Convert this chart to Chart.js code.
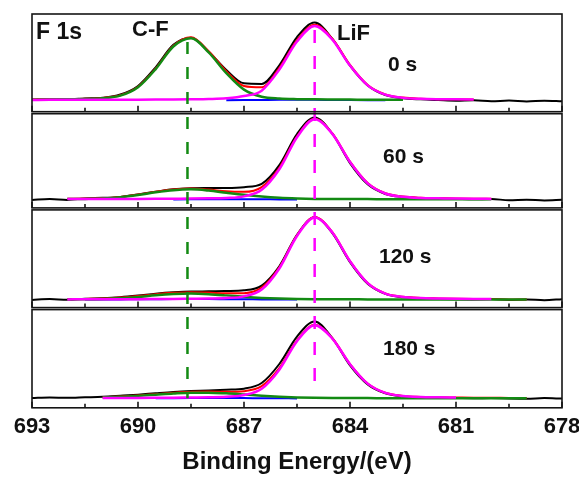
<!DOCTYPE html>
<html lang="en">
<head>
<meta charset="UTF-8"/>
<title>F 1s XPS depth profile</title>
<script src="https://cdn.jsdelivr.net/npm/chart.js"></script>
<style>
    html, body {
        margin: 0;
        padding: 0;
        background: #fff;
        overflow: hidden;
    }
    .wrap {
        position: absolute;
        left: 0;
        top: 0;
        width: 600px;
        height: 477px;
    }
</style>
</head>
<body>
<div class="wrap"><canvas id="xps"></canvas></div>
<script>
// binding energy grid (eV), shared by every curve
const energies = [693, 692.5, 692, 691.5, 691, 690.5, 690, 689.5, 689, 688.5, 688, 687.5, 687, 686.5, 686,
    685.5, 685, 684.5, 684, 683.5, 683, 682.5, 682, 681.5, 681, 680.5, 680, 679.5, 679, 678.5, 678];
const majorTicks = [693, 690, 687, 684, 681, 678];
const minorTicks = [691.5, 688.5, 685.5, 682.5, 679.5];
const sputterTimes = ['0 s', '60 s', '120 s', '180 s'];
const peakNames = ['C-F', 'LiF'];
const peakPositions = [688.6, 685.0];

// 0 s
const raw0 = [0.5, 1.0, 0.8, 1.7, 2.4, 5.6, 14.2, 32.8, 55.2, 62.4, 48.4, 30.2, 16.8, 16.2, 34.8,
    63.0, 77.4, 61.2, 34.4, 14.6, 5.0, 1.9, 0.8, 0.1, -0.5, -0.1, -1.0, -0.4, -1.3, -0.5, -1.1];
const env0 = [0.7, 0.9, 1.1, 1.4, 2.3, 4.9, 13.4, 31.6, 54.3, 62.7, 48.9, 28.9, 14.2, 12.8, 32.3,
    60.0, 75.2, 61.3, 35.2, 15.2, 5.8, 2.6, 1.4, 1.0, 0.8, 0.6, null, null, null, null, null];
const cf0 = [0.5, 0.6, 0.8, 1.1, 1.9, 4.5, 12.9, 31.0, 53.6, 61.8, 47.7, 27.0, 10.5, 3.5, 1.6,
    1.0, 0.8, 0.7, 0.6, 0.4, 0.4, 0.3, null, null, null, null, null, null, null, null, null];
const lif0 = [0.2, 0.3, 0.3, 0.3, 0.4, 0.4, 0.5, 0.6, 0.7, 0.9, 1.2, 1.9, 4.1, 9.5, 30.5,
    58.5, 74.0, 60.4, 34.5, 14.8, 5.5, 2.3, 1.4, 1.0, 0.8, 0.6, null, null, null, null, null];
const bg0 = [null, null, null, null, null, null, null, null, null, null, null, 0.0, 0.1, 0.2, 0.3,
    0.3, 0.3, 0.2, 0.1, 0.0, -0.1, null, null, null, null, null, null, null, null, null, null];

// 60 s
const raw1 = [-0.6, 0.4, -0.5, 0.9, 1.5, 2.5, 5.0, 7.6, 10.1, 11.1, 11.3, 11.4, 12.2, 15.5, 34.2,
    65.2, 81.8, 65.6, 36.2, 15.0, 5.4, 2.4, 1.3, 0.8, 0.5, 0.2, 0.3, -0.8, -0.3, -1.0, -0.4];
const env1 = [null, null, 0.6, 0.8, 1.3, 2.5, 4.8, 7.7, 9.9, 10.8, 9.8, 8.0, 7.5, 12.3, 31.6,
    62.9, 80.5, 65.8, 37.6, 16.3, 6.1, 2.8, 1.6, 1.2, 0.9, 0.7, 0.6, null, null, null, null];
const cf1 = [null, null, 0.3, 0.5, 0.9, 2.1, 4.3, 7.1, 9.2, 10.0, 8.8, 6.6, 4.5, 2.8, 1.6,
    0.9, 0.5, 0.4, 0.3, 0.3, 0.2, 0.2, 0.2, 0.1, 0.1, 0.1, 0.1, null, null, null, null];
const lif1 = [null, null, 0.3, 0.3, 0.4, 0.4, 0.5, 0.6, 0.7, 0.8, 1.0, 1.4, 3.0, 9.5, 30.0,
    62.0, 80.0, 65.4, 37.3, 16.0, 5.9, 2.6, 1.4, 1.1, 0.8, 0.6, 0.5, null, null, null, null];
const bg1 = [null, null, null, null, null, null, null, null, 0.0, 0.1, 0.2, 0.2, 0.2, 0.1, 0.0,
    -0.1, null, null, null, null, null, null, null, null, null, null, null, null, null, null, null];

// 120 s
const raw2 = [-0.3, 0.5, -0.2, 0.9, 1.4, 2.4, 4.0, 5.9, 7.3, 8.1, 8.2, 8.5, 9.2, 14.0, 33.3,
    64.6, 82.2, 66.4, 37.4, 15.8, 5.7, 2.3, 1.1, 0.7, 0.4, 0.2, 0.5, -0.3, 0.2, -0.6, 0.4];
const env2 = [null, null, 0.4, 0.7, 1.1, 2.0, 3.5, 5.4, 6.7, 7.4, 7.0, 6.2, 6.4, 11.9, 32.1,
    64.1, 82.4, 67.3, 38.5, 16.6, 6.2, 2.8, 1.6, 1.2, 0.9, 0.7, 0.6, 0.2, 0.1, null, null];
const cf2 = [null, null, 0.2, 0.3, 0.6, 1.3, 2.6, 4.3, 5.5, 6.0, 5.4, 4.2, 2.8, 1.7, 1.0,
    0.6, 0.4, 0.3, 0.3, 0.2, 0.2, 0.2, 0.1, 0.1, 0.1, 0.1, 0.1, 0.1, 0.1, null, null];
const lif2 = [null, null, 0.2, 0.3, 0.3, 0.4, 0.4, 0.5, 0.6, 0.8, 1.0, 1.5, 3.2, 10.0, 31.0,
    63.5, 82.0, 67.0, 38.2, 16.4, 6.0, 2.6, 1.5, 1.1, 0.8, 0.6, 0.5, null, null, null, null];
const bg2 = [null, null, null, 0.0, 0.1, 0.2, 0.3, 0.4, 0.5, 0.5, 0.5, 0.4, 0.3, 0.2, 0.1,
    0.0, null, null, null, null, null, null, null, null, null, null, null, null, null, null, null];

// 180 s
const raw3 = [0.2, 0.8, 0.5, 1.0, 1.5, 2.5, 3.6, 5.0, 6.3, 7.2, 7.8, 8.6, 9.6, 15.2, 34.2,
    61.6, 76.6, 60.0, 32.8, 13.8, 4.9, 1.9, 0.9, 0.5, 0.3, 0.1, 0.2, -0.2, -0.4, 0.2, -0.3];
const env3 = [null, null, null, null, 1.0, 1.8, 2.8, 4.1, 5.4, 6.4, 6.7, 6.5, 7.1, 12.1, 30.1,
    57.9, 73.5, 59.9, 34.2, 14.8, 5.5, 2.4, 1.4, 1.0, 0.8, 0.6, 0.5, 0.4, 0.3, null, null];
const cf3 = [null, null, null, null, 0.7, 1.5, 2.4, 3.6, 4.8, 5.6, 5.6, 4.9, 3.8, 2.6, 1.6,
    0.9, 0.5, 0.3, 0.2, 0.2, 0.1, 0.1, 0.1, 0.0, 0.0, 0.0, 0.0, 0.0, 0.0, null, null];
const lif3 = [null, null, null, null, 0.3, 0.3, 0.4, 0.5, 0.6, 0.8, 1.0, 1.5, 3.2, 9.5, 28.5,
    57.0, 73.0, 59.6, 34.0, 14.6, 5.4, 2.3, 1.3, 1.0, 0.8, null, null, null, null, null, null];
const bg3 = [null, null, null, null, null, null, null, 0.0, 0.1, 0.2, 0.3, 0.3, 0.2, 0.1, 0.0,
    -0.1, null, null, null, null, null, null, null, null, null, null, null, null, null, null, null];

const panels = [
    {raw: raw0, env: env0, cf: cf0, lif: lif0, bg: bg0},
    {raw: raw1, env: env1, cf: cf1, lif: lif1, bg: bg1},
    {raw: raw2, env: env2, cf: cf2, lif: lif2, bg: bg2},
    {raw: raw3, env: env3, cf: cf3, lif: lif3, bg: bg3}
];

const FONT = "'Liberation Sans', Arial, sans-serif";
const panelIds = ['p0', 'p1', 'p2', 'p3'];

function points(arr) {
    const out = [];
    energies.forEach((e, i) => {
        if (arr[i] !== null) out.push({x: e, y: arr[i]});
    });
    return out;
}

function line(arr, axis, color, width, order) {
    return {
        data: points(arr),
        yAxisID: axis,
        borderColor: color,
        borderWidth: width,
        pointRadius: 0,
        cubicInterpolationMode: 'monotone',
        fill: false,
        order: order
    };
}

const datasets = [];
panels.forEach((p, i) => {
    const id = panelIds[i];
    datasets.push(line(p.raw, id, '#000000', 2, 5));
    datasets.push(line(p.env, id, '#ff0000', 2, 4));
    datasets.push(line(p.bg, id, '#0000ff', 2, 3));
    datasets.push(line(p.cf, id, '#138a13', 2.5, 2));
    datasets.push(line(p.lif, id, '#ff00ff', 2.5, 1));
});

const panelAxis = (min, max, weight, stackWeight) => ({
    type: 'linear',
    position: 'left',
    stack: 'panels',
    stackWeight: stackWeight,
    weight: weight,
    display: false,
    min: min,
    max: max
});

// frames, inner ticks, reference lines and labels
const decorations = {
    id: 'decorations',
    afterDatasetsDraw(chart) {
        const {ctx, chartArea, scales} = chart;
        const x = scales.x;
        ctx.save();

        // dashed peak markers running through all panels
        const markers = [
            {e: peakPositions[0], from: 58, to: 0, color: '#138a13', dash: [12, 13]},
            {e: peakPositions[1], from: 70, to: 10, color: '#ff00ff', dash: [13, 13]}
        ];
        markers.forEach(m => {
            const px = x.getPixelForValue(m.e);
            ctx.beginPath();
            ctx.setLineDash(m.dash);
            ctx.lineWidth = 2.5;
            ctx.strokeStyle = m.color;
            ctx.moveTo(px, scales.p0.getPixelForValue(m.from));
            ctx.lineTo(px, scales.p3.getPixelForValue(m.to));
            ctx.stroke();
        });
        ctx.setLineDash([]);

        // panel boxes with inward ticks on the bottom edge
        panelIds.forEach((id, i) => {
            const s = scales[id];
            const top = s.top + (i ? 1 : 0);
            const bottom = s.bottom - (i < 3 ? 1 : 0);
            ctx.lineWidth = 1.6;
            ctx.strokeStyle = '#151515';
            ctx.strokeRect(chartArea.left, top, chartArea.right - chartArea.left, bottom - top);
            ctx.beginPath();
            majorTicks.forEach(t => {
                const px = x.getPixelForValue(t);
                ctx.moveTo(px, bottom);
                ctx.lineTo(px, bottom - 6);
            });
            minorTicks.forEach(t => {
                const px = x.getPixelForValue(t);
                ctx.moveTo(px, bottom);
                ctx.lineTo(px, bottom - 4);
            });
            ctx.stroke();
        });

        // text labels
        ctx.fillStyle = '#111';
        ctx.textBaseline = 'alphabetic';
        ctx.textAlign = 'left';
        ctx.font = 'bold 23px ' + FONT;
        ctx.fillText('F 1s', 36, 39);
        ctx.font = 'bold 22px ' + FONT;
        ctx.fillText(peakNames[0], 132, 36);
        ctx.fillText(peakNames[1], 337, 40);
        ctx.font = 'bold 21px ' + FONT;
        const timePos = [[388, 71], [383, 163], [379, 263], [383, 355]];
        sputterTimes.forEach((t, i) => ctx.fillText(t, timePos[i][0], timePos[i][1]));
        ctx.restore();
    }
};

new Chart(document.getElementById('xps'), {
    type: 'line',
    data: {datasets: datasets},
    options: {
        responsive: true,
        maintainAspectRatio: false,
        animation: false,
        layout: {padding: {left: 32, right: 38, top: 14, bottom: 0}},
        plugins: {legend: {display: false}, tooltip: {enabled: false}},
        scales: {
            x: {
                type: 'linear',
                reverse: true,
                min: 678,
                max: 693,
                grid: {display: false, drawTicks: false},
                border: {display: false},
                ticks: {
                    stepSize: 3,
                    padding: 6,
                    color: '#111',
                    font: {family: FONT, size: 22, weight: 'bold'}
                },
                title: {
                    display: true,
                    text: 'Binding Energy/(eV)',
                    color: '#111',
                    padding: {top: 2, bottom: 0},
                    font: {family: FONT, size: 24, weight: 'bold'}
                }
            },
            p0: panelAxis(-12.5, 86, 4, 98.5),
            p1: panelAxis(-9.5, 86.5, 3, 96),
            p2: panelAxis(-9, 90.5, 2, 99.5),
            p3: panelAxis(-9.5, 89.5, 1, 99)
        }
    },
    plugins: [decorations]
});
</script>
</body>
</html>
